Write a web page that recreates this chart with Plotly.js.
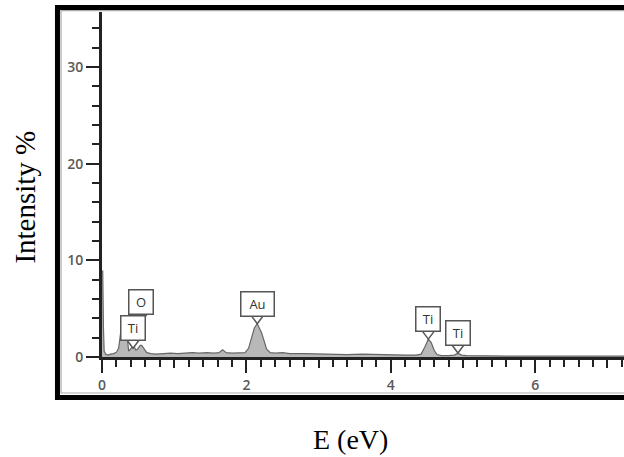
<!DOCTYPE html>
<html>
<head>
<meta charset="utf-8">
<script src="https://cdn.plot.ly/plotly-3.0.1.min.js"></script>
<style>html,body{margin:0;padding:0;background:#fff;}#chart{width:624px;height:457px;}</style>
</head>
<body>
<div id="chart"></div>
<script>
// Spectrum (energy in eV, intensity in %)
const energy = [0, 0.01, 0.02, 0.03, 0.05, 0.08, 0.12, 0.16, 0.20, 0.23, 0.25, 0.27, 0.29, 0.31, 0.33, 0.35, 0.37, 0.39, 0.41, 0.43, 0.45, 0.47, 0.49, 0.51, 0.53, 0.55, 0.58, 0.62, 0.68, 0.75, 0.85, 0.95, 1.05, 1.15, 1.25, 1.35, 1.45, 1.55, 1.62, 1.67, 1.72, 1.80, 1.90, 1.98, 2.03, 2.07, 2.11, 2.15, 2.18, 2.21, 2.24, 2.28, 2.33, 2.40, 2.50, 2.60, 2.80, 3.00, 3.20, 3.40, 3.60, 3.80, 4.00, 4.20, 4.35, 4.42, 4.47, 4.52, 4.56, 4.60, 4.64, 4.70, 4.80, 4.88, 4.93, 4.98, 5.05, 5.20, 5.40, 5.60, 5.80, 6.00, 6.30, 6.60, 6.90, 7.23];
const intensity = [8.9, 8.9, 3.0, 0.6, 0.3, 0.2, 0.3, 0.35, 0.5, 0.9, 2.0, 3.3, 3.9, 3.9, 3.4, 1.6, 0.6, 0.8, 1.0, 1.1, 1.0, 0.7, 0.8, 1.0, 1.2, 1.2, 0.9, 0.45, 0.35, 0.3, 0.35, 0.4, 0.35, 0.4, 0.45, 0.4, 0.45, 0.4, 0.45, 0.75, 0.45, 0.4, 0.4, 0.45, 0.9, 1.9, 3.0, 3.45, 3.0, 2.5, 1.8, 0.8, 0.45, 0.4, 0.45, 0.35, 0.35, 0.3, 0.3, 0.25, 0.3, 0.25, 0.2, 0.2, 0.2, 0.3, 1.0, 1.85, 1.5, 0.7, 0.25, 0.15, 0.15, 0.2, 0.4, 0.2, 0.15, 0.12, 0.1, 0.1, 0.1, 0.1, 0.1, 0.1, 0.1, 0.1];

// Peak labels
const peakNames = ['O', 'Ti', 'Au', 'Ti', 'Ti'];
const peakX = [0.54, 0.43, 2.15, 4.52, 4.93];
const peakY = [3.6, 0.9, 3.45, 1.85, 0.41];

const xTitle = 'E (eV)';
const yTitle = 'Intensity %';

const notch = 7;
const annotations = peakNames.map((n, i) => ({
  x: peakX[i], y: peakY[i], xref: 'x', yref: 'y',
  text: n, showarrow: false, xanchor: 'center', yanchor: 'bottom', yshift: notch,
  bgcolor: '#ffffff', bordercolor: '#555555', borderwidth: 1.5, borderpad: 4,
  width: n === 'Au' ? 24 : 15, height: 15,
  font: {family: 'Open Sans, sans-serif', size: 13, color: '#333333'}
}));
annotations.push({
  xref: 'paper', yref: 'paper', x: -0.1475, y: 0.462, text: yTitle, textangle: -90,
  showarrow: false, xanchor: 'center', yanchor: 'middle',
  font: {family: 'Liberation Serif, Times New Roman, serif', size: 29, color: '#000'}
});
annotations.push({
  xref: 'paper', yref: 'paper', x: 0.477, y: -0.238, text: xTitle,
  showarrow: false, xanchor: 'center', yanchor: 'middle',
  font: {family: 'Liberation Serif, Times New Roman, serif', size: 28, color: '#000'}
});

const shapes = peakNames.map((n, i) => ({
  type: 'path', xref: 'x', yref: 'y', xsizemode: 'pixel', ysizemode: 'pixel',
  xanchor: peakX[i], yanchor: peakY[i],
  path: 'M -6 ' + (notch + 1) + ' L 0 0 L 6 ' + (notch + 1) + ' Z',
  fillcolor: '#ffffff', line: {color: '#555555', width: 1.5}, layer: 'above'
}));
shapes.push({type: 'rect', xref: 'paper', yref: 'paper', x0: -0.0853, x1: 1.08, y0: -0.1174, y1: 1.013,
  line: {color: '#000', width: 5}, fillcolor: 'rgba(0,0,0,0)', layer: 'below'});
shapes.push({type: 'rect', xref: 'paper', yref: 'paper', x0: -0.0785, x1: 1.07, y0: -0.1043, y1: 1.004,
  line: {color: '#aaaaaa', width: 1.2}, fillcolor: 'rgba(0,0,0,0)', layer: 'below'});

const traces = [
  {x: energy, y: intensity, type: 'scatter', mode: 'lines', fill: 'tozeroy',
   fillcolor: '#b8b8b8', line: {color: '#666666', width: 1.2}, hoverinfo: 'skip', showlegend: false},
  {x: [], y: [], xaxis: 'x2', yaxis: 'y', type: 'scatter', showlegend: false, hoverinfo: 'skip'}
];

const tickFont = {family: 'Open Sans, sans-serif', size: 14, color: '#5a5a5a', weight: 600};
const layout = {
  width: 624, height: 457,
  margin: {l: 102, r: 0, t: 12, b: 100, pad: 0},
  paper_bgcolor: '#ffffff', plot_bgcolor: '#ffffff',
  showlegend: false,
  xaxis: {
    range: [0, 7.23], showgrid: false, zeroline: false,
    showline: true, linecolor: '#222', linewidth: 3,
    ticks: 'outside', tick0: 0, dtick: 2, ticklen: 13, tickwidth: 2, tickcolor: '#222',
    tickfont: tickFont,
    minor: {dtick: 0.2, ticks: 'outside', ticklen: 7, tickwidth: 2, tickcolor: '#222', showgrid: false}
  },
  xaxis2: {
    overlaying: 'x', anchor: 'y', side: 'bottom', range: [0, 7.23],
    showgrid: false, zeroline: false, showline: false, showticklabels: false,
    ticks: 'outside', tick0: 1, dtick: 2, ticklen: 10, tickwidth: 2, tickcolor: '#222'
  },
  yaxis: {
    range: [0, 35.7], showgrid: false, zeroline: false,
    showline: true, linecolor: '#222', linewidth: 3,
    ticks: 'outside', tick0: 0, dtick: 10, ticklen: 13, tickwidth: 2, tickcolor: '#222',
    tickfont: tickFont,
    minor: {dtick: 2, ticks: 'outside', ticklen: 7, tickwidth: 2, tickcolor: '#222', showgrid: false}
  },
  annotations: annotations,
  shapes: shapes
};

Plotly.newPlot('chart', traces, layout, {staticPlot: true, displayModeBar: false});
</script>
</body>
</html>
